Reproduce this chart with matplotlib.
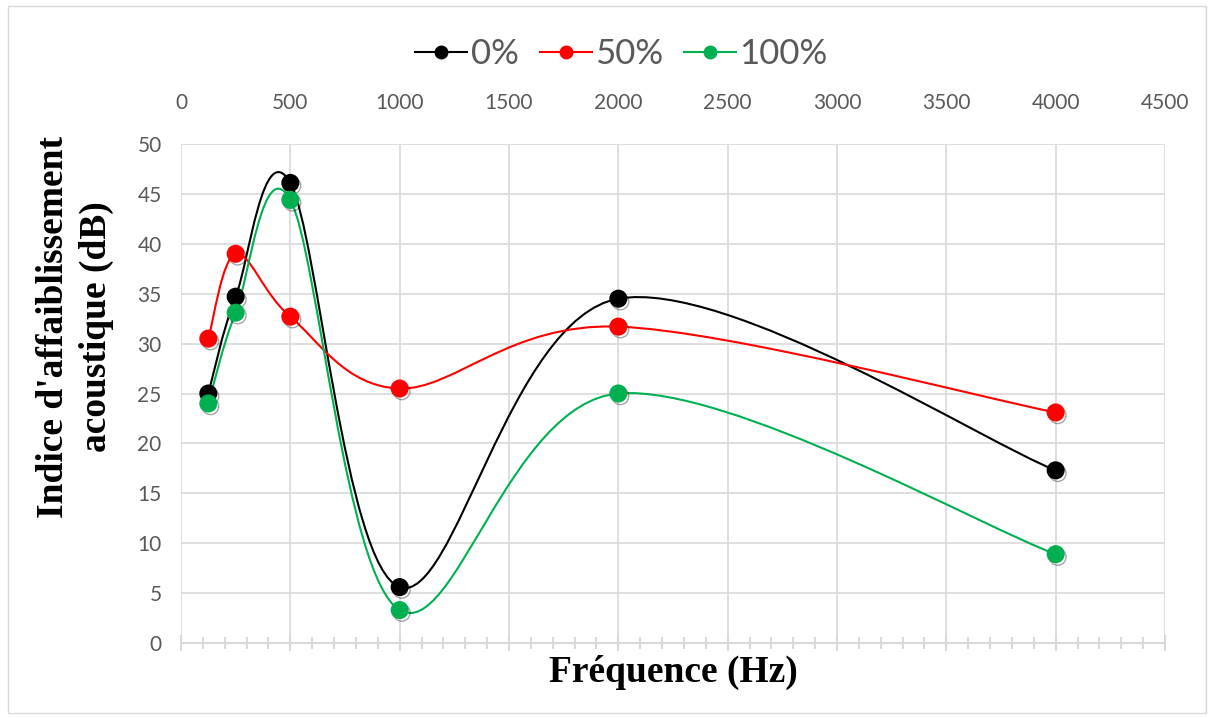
import matplotlib
matplotlib.use("Agg")
import matplotlib.pyplot as plt
import matplotlib.patheffects as pe
from matplotlib.path import Path
from matplotlib.patches import PathPatch, Rectangle
from matplotlib.lines import Line2D
from matplotlib.ticker import MultipleLocator
import numpy as np

# Frequencies (Hz) and sound reduction index (dB) per substitution rate
freq = [125, 250, 500, 1000, 2000, 4000]
series_names = ["0%", "50%", "100%"]
r_0 = [25.0, 34.7, 46.1, 5.6, 34.5, 17.3]
r_50 = [30.5, 39.0, 32.7, 25.5, 31.7, 23.1]
r_100 = [24.0, 33.1, 44.4, 3.3, 25.0, 8.9]
colors = ["#000000", "#FF0000", "#00B050"]

x_ticks = list(range(0, 5000, 500))
y_ticks = list(range(0, 55, 5))

GRAY_TXT = "#595959"
GRID = "#D9D9D9"


def smooth_path(xs, ys):
    """Cubic Bezier path through the points (Catmull-Rom style tangents)."""
    pts = np.column_stack([xs, ys]).astype(float)
    n = len(pts)
    verts = [pts[0]]
    codes = [Path.MOVETO]
    for i in range(n - 1):
        p_prev = pts[i - 1] if i > 0 else pts[i]
        p0, p1 = pts[i], pts[i + 1]
        p_next = pts[i + 2] if i + 2 < n else pts[i + 1]
        c1 = p0 + (p1 - p_prev) / 6.0
        c2 = p1 - (p_next - p0) / 6.0
        verts += [c1, c2, p1]
        codes += [Path.CURVE4] * 3
    return Path(verts, codes)


fig = plt.figure(figsize=(12.14, 7.18), dpi=100)
fig.patches.append(Rectangle((8 / 1214, 5 / 718), 1 - 16 / 1214, 1 - 11 / 718,
                             transform=fig.transFigure, fill=False,
                             edgecolor="#D9D9D9", linewidth=1.0))

ax = fig.add_axes([181 / 1214, 1 - 643 / 718, (1165 - 181) / 1214, (643 - 144) / 718])
ax.set_xlim(0, 4500)
ax.set_ylim(0, 50)

for s in ["top", "right", "left"]:
    ax.spines[s].set_visible(False)
ax.spines["bottom"].set_color(GRID)
ax.spines["bottom"].set_linewidth(1.5)

ax.set_xticks(x_ticks)
ax.xaxis.set_minor_locator(MultipleLocator(100))
ax.tick_params(axis="x", which="major", direction="inout", length=12, width=1.5,
               color=GRID, labelbottom=False)
ax.tick_params(axis="x", which="minor", direction="inout", length=9, width=1.5,
               color=GRID)
ax.set_yticks(y_ticks)
ax.tick_params(axis="y", length=0, pad=14, labelsize=15, labelcolor=GRAY_TXT)
for lab in ax.get_yticklabels():
    lab.set_fontfamily("Lato")

ax.grid(True, which="major", color=GRID, linewidth=1.2)
ax.set_axisbelow(True)

top = ax.secondary_xaxis("top")
top.set_xticks(x_ticks)
top.tick_params(length=0, pad=22, labelsize=15, labelcolor=GRAY_TXT)
top.spines["top"].set_visible(False)
for lab in top.get_xticklabels():
    lab.set_fontfamily("Lato")

handles = []
for name, vals, c in zip(series_names, [r_0, r_50, r_100], colors):
    ax.add_patch(PathPatch(smooth_path(freq, vals), facecolor="none",
                           edgecolor=c, linewidth=1.5, zorder=3))
    ax.plot(freq, vals, linestyle="none", marker="o", markersize=12,
            markerfacecolor=c, markeredgecolor=c, zorder=4,
            path_effects=[pe.SimpleLineShadow(offset=(1.5, -2), shadow_color="k",
                                              alpha=0.35), pe.Normal()])
    handles.append(Line2D([], [], color=c, linewidth=1.5, marker="o",
                          markersize=9, label=name))

fig.legend(handles=handles, loc="center", bbox_to_anchor=(0.512, 1 - 54 / 718),
           ncol=3, frameon=False, handlelength=1.5, handletextpad=0.1,
           columnspacing=0.6, prop={"family": "Lato", "size": 25},
           labelcolor=GRAY_TXT)

fig.text(673 / 1214, 1 - 672 / 718, "Fréquence (Hz)", ha="center", va="center",
         fontsize=27, fontweight="bold", family="Liberation Serif")
fig.text(75 / 1214, 1 - 327 / 718, "Indice d'affaiblissement\nacoustique (dB)",
         ha="center", va="center", rotation=90, multialignment="center",
         linespacing=1.3, fontsize=27, fontweight="bold", family="Liberation Serif")

fig.savefig("out.png", dpi=100)
